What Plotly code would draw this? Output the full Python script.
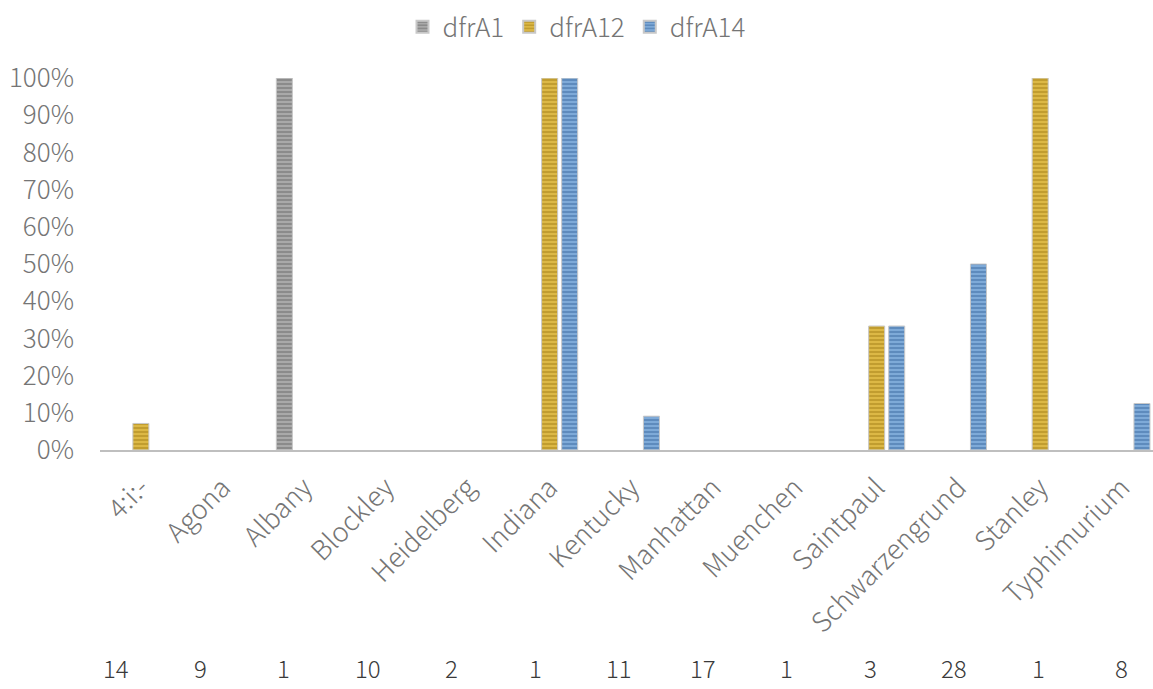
import plotly.graph_objects as go

categories = ["4:i:-", "Agona", "Albany", "Blockley", "Heidelberg", "Indiana", "Kentucky",
              "Manhattan", "Muenchen", "Saintpaul", "Schwarzengrund", "Stanley", "Typhimurium"]
counts = [14, 9, 1, 10, 2, 1, 11, 17, 1, 3, 28, 1, 8]
dfrA1 = [0, 0, 1.0, 0, 0, 0, 0, 0, 0, 0, 0, 0, 0]
dfrA12 = [0.0714, 0, 0, 0, 0, 1.0, 0, 0, 0, 0.3333, 0, 1.0, 0]
dfrA14 = [0, 0, 0, 0, 0, 1.0, 0.0909, 0, 0, 0.3333, 0.5, 0, 0.125]

FONT = "Noto Sans CJK JP"
series = [
    ("dfrA1", dfrA1, "#a9a9a9", "#666666"),
    ("dfrA12", dfrA12, "#dcb845", "#a07d14"),
    ("dfrA14", dfrA14, "#7eaad8", "#36669c"),
]

x_idx = list(range(len(categories)))
fig = go.Figure()
for name, vals, bg, fg in series:
    fig.add_trace(go.Bar(
        name=name, x=x_idx, y=vals,
        marker=dict(color=bg,
                    line=dict(color="#c8c8c8", width=[1 if v > 0 else 0 for v in vals]),
                    pattern=dict(shape="-", fgcolor=fg, bgcolor=bg, size=4, solidity=0.45)),
    ))

# sample-size row under the category labels
for i, n in enumerate(counts):
    fig.add_annotation(x=i - 0.3 + 0.025 * i, y=-0.638, xref="x", yref="paper",
                       yanchor="bottom", text=str(n), showarrow=False,
                       font=dict(family=FONT, size=24, color="#3a3a3a", weight=300))

fig.update_layout(
    width=1153, height=689,
    margin=dict(l=100, r=0, t=78, b=239),
    paper_bgcolor="white", plot_bgcolor="white",
    barmode="group", bargap=0.265, bargroupgap=0.2,
    font=dict(family=FONT, size=26, color="#757575", weight=300),
    legend=dict(orientation="h", x=0.5, xref="container", xanchor="center",
                y=0.995, yref="container", yanchor="top",
                font=dict(family=FONT, size=26, color="#757575", weight=300),
                itemwidth=30, itemsizing="constant"),
    showlegend=True,
)
fig.update_xaxes(
    tickmode="array", tickvals=x_idx, ticktext=categories,
    range=[-0.5, 12.38], tickangle=-45,
    showline=True, linecolor="#bfbfbf", linewidth=2,
    showgrid=False, ticks="", zeroline=False,
    ticklabelstandoff=9,
    tickfont=dict(family=FONT, size=27, color="#757575", weight=300),
)
fig.update_yaxes(
    range=[0, 1.0], tickformat=".0%", dtick=0.1,
    showgrid=False, zeroline=False, showline=False, ticks="",
    ticklabelstandoff=25,
    tickfont=dict(family=FONT, size=26, color="#757575", weight=300),
)
fig.write_html("out.html")
